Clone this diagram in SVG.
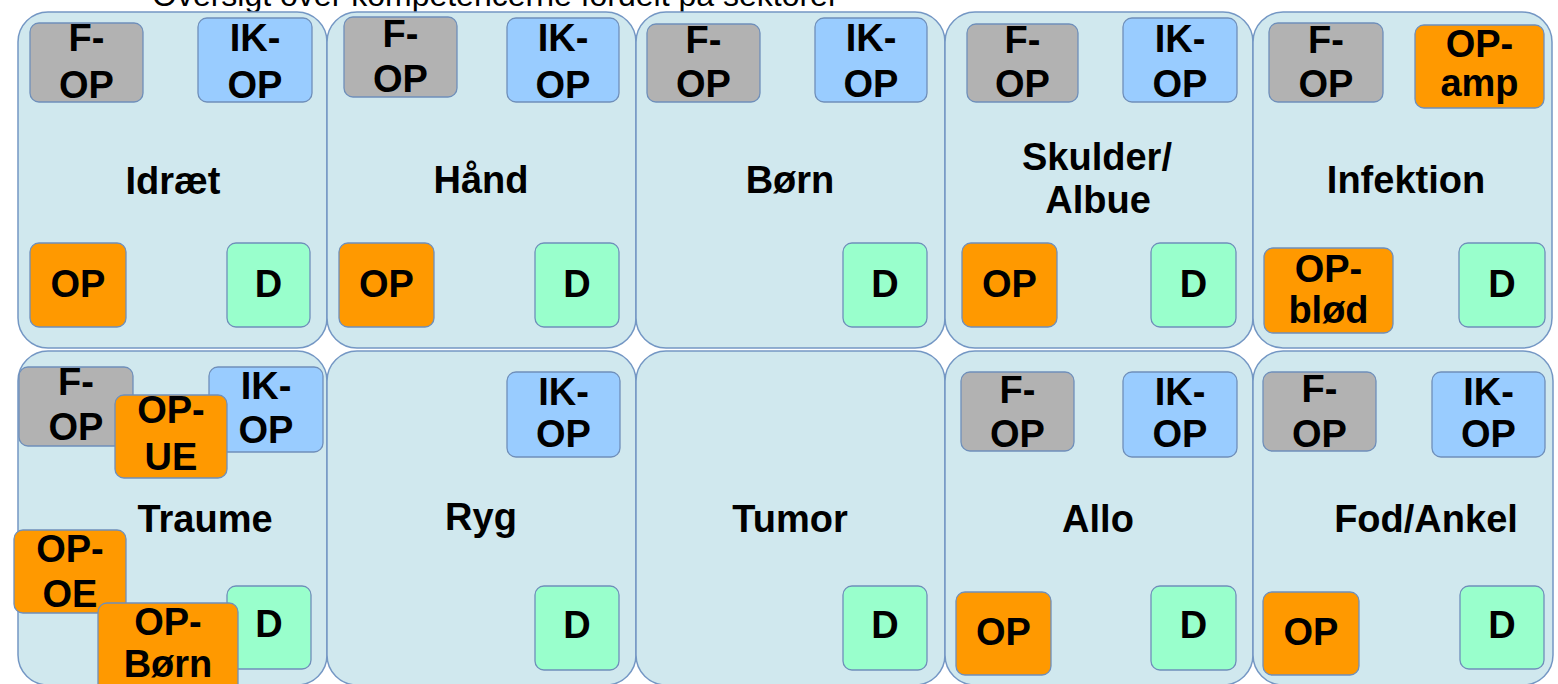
<svg xmlns="http://www.w3.org/2000/svg" width="1558" height="684" viewBox="0 0 1558 684">
<style>
.bg{fill:#ffffff}
.cell{fill:#d0e8ee;stroke:#7497c4;stroke-width:1.5}
.b{stroke:#6f8fba;stroke-width:1.3}
.grey{fill:#b2b2b2}
.blue{fill:#99ccff}
.orange{fill:#ff9900}
.green{fill:#99ffcc}
.t{font-family:"Liberation Sans",Arial,sans-serif;font-weight:bold;font-size:38px;text-anchor:middle;fill:#000}
.title{font-family:"Liberation Sans",Arial,sans-serif;font-size:32px;fill:#000}
</style>
<rect class="bg" x="0" y="0" width="1558" height="684"/>
<text class="title" x="152" y="6">Oversigt over kompetencerne fordelt på sektorer</text>

<g id="cell-idraet">
<rect class="cell" x="18" y="12" width="309" height="336" rx="30"/>
<rect class="b grey" x="30" y="23" width="113" height="79" rx="9"/>
<text class="t"><tspan x="86.5" y="51">F-</tspan><tspan x="86.5" y="98">OP</tspan></text>
<rect class="b blue" x="198" y="18" width="114" height="84" rx="9"/>
<text class="t"><tspan x="255" y="51">IK-</tspan><tspan x="255" y="98">OP</tspan></text>
<text class="t" x="173" y="194">Idræt</text>
<rect class="b orange" x="30" y="243" width="96" height="84" rx="9"/>
<text class="t" x="78" y="297">OP</text>
<rect class="b green" x="227" y="243" width="83" height="84" rx="9"/>
<text class="t" x="268.5" y="297">D</text>
</g>

<g id="cell-haand">
<rect class="cell" x="327" y="12" width="309" height="336" rx="30"/>
<rect class="b grey" x="344" y="17" width="113" height="80" rx="9"/>
<text class="t"><tspan x="400.5" y="47">F-</tspan><tspan x="400.5" y="92">OP</tspan></text>
<rect class="b blue" x="507" y="18" width="112" height="84" rx="9"/>
<text class="t"><tspan x="563" y="51">IK-</tspan><tspan x="563" y="98">OP</tspan></text>
<text class="t" x="481" y="193">Hånd</text>
<rect class="b orange" x="339" y="243" width="95" height="84" rx="9"/>
<text class="t" x="386.5" y="297">OP</text>
<rect class="b green" x="535" y="243" width="84" height="84" rx="9"/>
<text class="t" x="577" y="297">D</text>
</g>

<g id="cell-boern">
<rect class="cell" x="636" y="12" width="309" height="336" rx="30"/>
<rect class="b grey" x="647" y="24" width="113" height="78" rx="9"/>
<text class="t"><tspan x="703.5" y="53">F-</tspan><tspan x="703.5" y="97">OP</tspan></text>
<rect class="b blue" x="815" y="18" width="112" height="84" rx="9"/>
<text class="t"><tspan x="871" y="51">IK-</tspan><tspan x="871" y="97">OP</tspan></text>
<text class="t" x="790" y="193">Børn</text>
<rect class="b green" x="843" y="243" width="84" height="84" rx="9"/>
<text class="t" x="885" y="297">D</text>
</g>

<g id="cell-skulder">
<rect class="cell" x="945" y="12" width="308" height="336" rx="30"/>
<rect class="b grey" x="967" y="24" width="111" height="78" rx="9"/>
<text class="t"><tspan x="1022.5" y="53">F-</tspan><tspan x="1022.5" y="97">OP</tspan></text>
<rect class="b blue" x="1123" y="18" width="114" height="84" rx="9"/>
<text class="t"><tspan x="1180" y="52">IK-</tspan><tspan x="1180" y="97">OP</tspan></text>
<text class="t"><tspan x="1097" y="170">Skulder/</tspan><tspan x="1098" y="213">Albue</tspan></text>
<rect class="b orange" x="962" y="243" width="95" height="84" rx="9"/>
<text class="t" x="1009.5" y="297">OP</text>
<rect class="b green" x="1151" y="243" width="85" height="84" rx="9"/>
<text class="t" x="1193.5" y="297">D</text>
</g>

<g id="cell-infektion">
<rect class="cell" x="1253" y="12" width="299" height="336" rx="30"/>
<rect class="b grey" x="1269" y="23" width="114" height="79" rx="9"/>
<text class="t"><tspan x="1326" y="53">F-</tspan><tspan x="1326" y="97">OP</tspan></text>
<rect class="b orange" x="1415" y="25" width="129" height="83" rx="9"/>
<text class="t"><tspan x="1479.5" y="57">OP-</tspan><tspan x="1479.5" y="96">amp</tspan></text>
<text class="t" x="1406" y="193">Infektion</text>
<rect class="b orange" x="1264" y="248" width="129" height="85" rx="9"/>
<text class="t"><tspan x="1328.5" y="282">OP-</tspan><tspan x="1328.5" y="323">blød</tspan></text>
<rect class="b green" x="1459" y="243" width="86" height="84" rx="9"/>
<text class="t" x="1502" y="297">D</text>
</g>

<g id="cell-traume">
<rect class="cell" x="18" y="351" width="309" height="334" rx="30"/>
<rect class="b grey" x="19" y="367" width="114" height="79" rx="9"/>
<text class="t"><tspan x="76" y="395">F-</tspan><tspan x="76" y="440">OP</tspan></text>
<rect class="b blue" x="209" y="367" width="114" height="85" rx="9"/>
<text class="t"><tspan x="266" y="399">IK-</tspan><tspan x="266" y="443">OP</tspan></text>
<rect class="b orange" x="115" y="395" width="112" height="83" rx="9"/>
<text class="t"><tspan x="171" y="423">OP-</tspan><tspan x="171" y="470">UE</tspan></text>
<text class="t" x="205" y="532">Traume</text>
<rect class="b orange" x="14" y="530" width="112" height="83" rx="9"/>
<text class="t"><tspan x="70" y="562">OP-</tspan><tspan x="70" y="607">OE</tspan></text>
<rect class="b green" x="227" y="586" width="84" height="83" rx="9"/>
<text class="t" x="269" y="637">D</text>
<rect class="b orange" x="98" y="603" width="140" height="90" rx="9"/>
<text class="t"><tspan x="168" y="635">OP-</tspan><tspan x="168" y="677">Børn</tspan></text>
</g>

<g id="cell-ryg">
<rect class="cell" x="327" y="351" width="309" height="334" rx="30"/>
<rect class="b blue" x="507" y="372" width="113" height="85" rx="9"/>
<text class="t"><tspan x="563.5" y="405">IK-</tspan><tspan x="563.5" y="447">OP</tspan></text>
<text class="t" x="481" y="530">Ryg</text>
<rect class="b green" x="535" y="586" width="84" height="84" rx="9"/>
<text class="t" x="577" y="638">D</text>
</g>

<g id="cell-tumor">
<rect class="cell" x="636" y="351" width="309" height="334" rx="30"/>
<text class="t" x="790" y="532">Tumor</text>
<rect class="b green" x="843" y="586" width="84" height="84" rx="9"/>
<text class="t" x="885" y="638">D</text>
</g>

<g id="cell-allo">
<rect class="cell" x="945" y="351" width="308" height="334" rx="30"/>
<rect class="b grey" x="961" y="372" width="113" height="79" rx="9"/>
<text class="t"><tspan x="1017.5" y="403">F-</tspan><tspan x="1017.5" y="447">OP</tspan></text>
<rect class="b blue" x="1123" y="372" width="114" height="85" rx="9"/>
<text class="t"><tspan x="1180" y="405">IK-</tspan><tspan x="1180" y="447">OP</tspan></text>
<text class="t" x="1098" y="532">Allo</text>
<rect class="b orange" x="956" y="592" width="95" height="83" rx="9"/>
<text class="t" x="1003.5" y="645">OP</text>
<rect class="b green" x="1151" y="586" width="85" height="84" rx="9"/>
<text class="t" x="1193.5" y="638">D</text>
</g>

<g id="cell-fod">
<rect class="cell" x="1253" y="351" width="300" height="334" rx="30"/>
<rect class="b grey" x="1263" y="372" width="113" height="79" rx="9"/>
<text class="t"><tspan x="1319.5" y="402">F-</tspan><tspan x="1319.5" y="447">OP</tspan></text>
<rect class="b blue" x="1432" y="372" width="113" height="85" rx="9"/>
<text class="t"><tspan x="1488.5" y="405">IK-</tspan><tspan x="1488.5" y="447">OP</tspan></text>
<text class="t" x="1426" y="532">Fod/Ankel</text>
<rect class="b orange" x="1263" y="592" width="96" height="83" rx="9"/>
<text class="t" x="1311" y="645">OP</text>
<rect class="b green" x="1460" y="586" width="84" height="83" rx="9"/>
<text class="t" x="1502" y="638">D</text>
</g>

<g id="connectors"/>
</svg>
